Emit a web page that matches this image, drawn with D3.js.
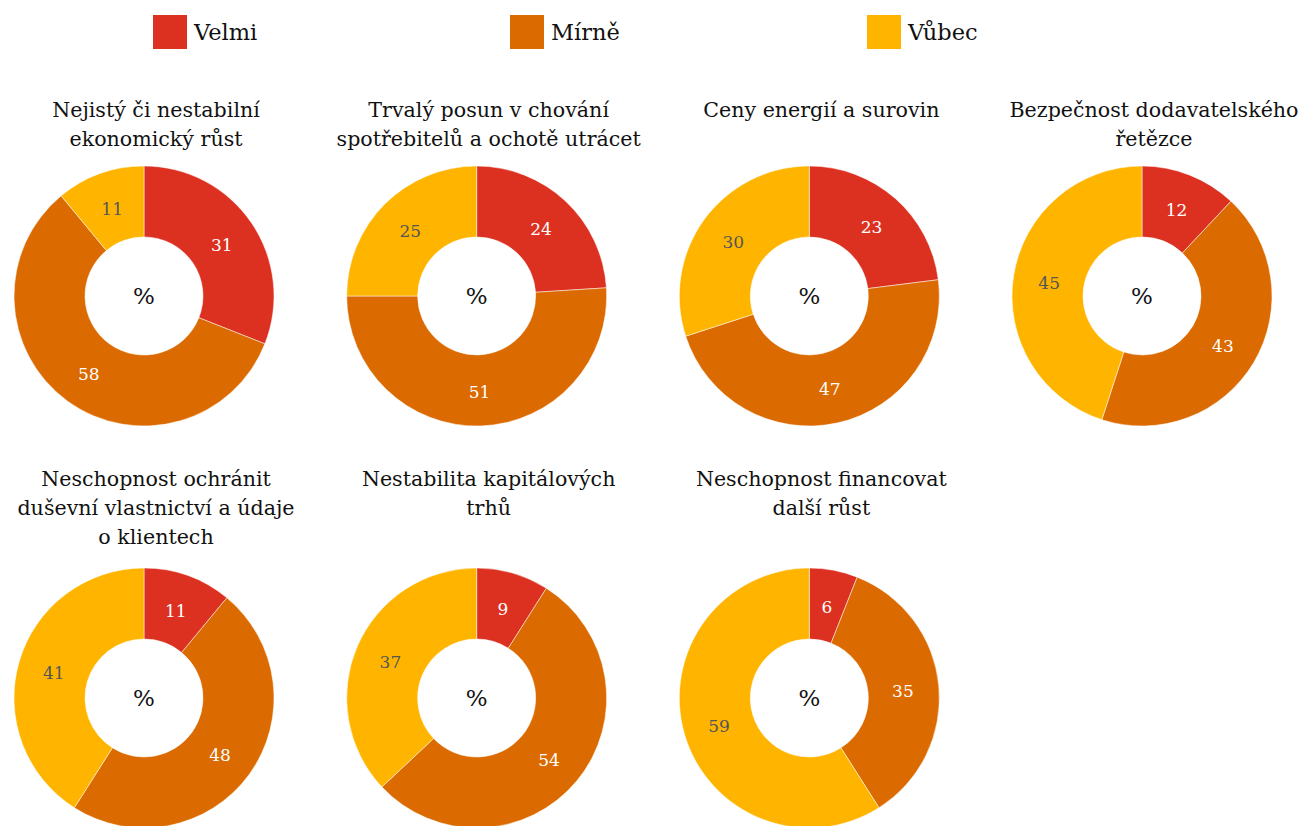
<!DOCTYPE html>
<html>
<head>
<meta charset="utf-8">
<script src="https://cdn.jsdelivr.net/npm/d3@7"></script>
<style>
  body { margin: 0; background: #fff; }
  svg { display: block; font-family: Georgia, "DejaVu Serif", serif; }
</style>
</head>
<body>
<div id="viz"></div>
<script>
// categories and series values
var categories = ["Velmi", "Mírně", "Vůbec"];
var colors = ["#dc3121", "#db6a00", "#ffb500"];
var titles = [
    ["Nejistý či nestabilní", "ekonomický růst"],
    ["Trvalý posun v chování", "spotřebitelů a ochotě utrácet"],
    ["Ceny energií a surovin"],
    ["Bezpečnost dodavatelského", "řetězce"],
    ["Neschopnost ochránit", "duševní vlastnictví a údaje", "o klientech"],
    ["Nestabilita kapitálových", "trhů"],
    ["Neschopnost financovat", "další růst"]
];
var velmi = [31, 24, 23, 12, 11, 9, 6];
var mirne = [58, 51, 47, 43, 48, 54, 35];
var vubec = [11, 25, 30, 45, 41, 37, 59];

var width = 1304, height = 826;
var svg = d3.select("#viz").append("svg")
    .attr("width", width)
    .attr("height", height);

// legend
var legendX = d3.scalePoint().domain(categories).range([153, 867]);
var legend = svg.append("g").selectAll("g")
    .data(categories)
    .enter().append("g")
    .attr("transform", function(d) { return "translate(" + legendX(d) + ",15)"; });
legend.append("rect")
    .attr("width", 34).attr("height", 34)
    .attr("fill", function(d, i) { return colors[i]; });
legend.append("text")
    .attr("x", 41).attr("y", 25)
    .attr("style", "font-size: 22.5px; fill: #111;")
    .text(function(d) { return d; });

var colX = d3.scalePoint().domain([0, 1, 2, 3]).range([144, 1142]);
var rowY = [296, 698];
var outerR = 130, innerR = 59, labelR = 94;

var pie = d3.pie().sort(null).value(function(d) { return d; });
var arc = d3.arc().innerRadius(innerR).outerRadius(outerR);
var labelArc = d3.arc().innerRadius(labelR).outerRadius(labelR);

titles.forEach(function(t, i) {
    var cx = colX(i % 4), cy = rowY[Math.floor(i / 4)];
    var g = svg.append("g").attr("transform", "translate(" + cx + "," + cy + ")");
    var vals = [velmi[i], mirne[i], vubec[i]];

    g.selectAll("path")
        .data(pie(vals))
        .enter().append("path")
        .attr("d", arc)
        .attr("fill", function(d, j) { return colors[j]; })
        .attr("stroke", "#fff")
        .attr("stroke-width", 0.5);

    g.selectAll(".lbl")
        .data(pie(vals))
        .enter().append("text")
        .attr("class", "lbl")
        .attr("transform", function(d) { return "translate(" + labelArc.centroid(d) + ")"; })
        .attr("text-anchor", "middle")
        .attr("dy", "0.45em")
        .attr("style", function(d, j) { return "font-size: 17px; fill: " + (j === 2 ? "#555" : "#fff") + ";"; })
        .text(function(d) { return d.data; });

    g.append("text")
        .attr("text-anchor", "middle")
        .attr("dy", "0.35em")
        .attr("style", "font-size: 23px; fill: #111;")
        .text("%");

    // title, lines stacked from the top (centred a bit right of the donut)
    var top = Math.floor(i / 4) === 0 ? 117 : 486;
    var tt = svg.append("text")
        .attr("text-anchor", "middle")
        .attr("style", "font-size: 20.6px; fill: #111;");
    t.forEach(function(line, k) {
        tt.append("tspan")
            .attr("x", cx + 12)
            .attr("y", top + k * 29)
            .text(line);
    });
});
</script>
</body>
</html>
